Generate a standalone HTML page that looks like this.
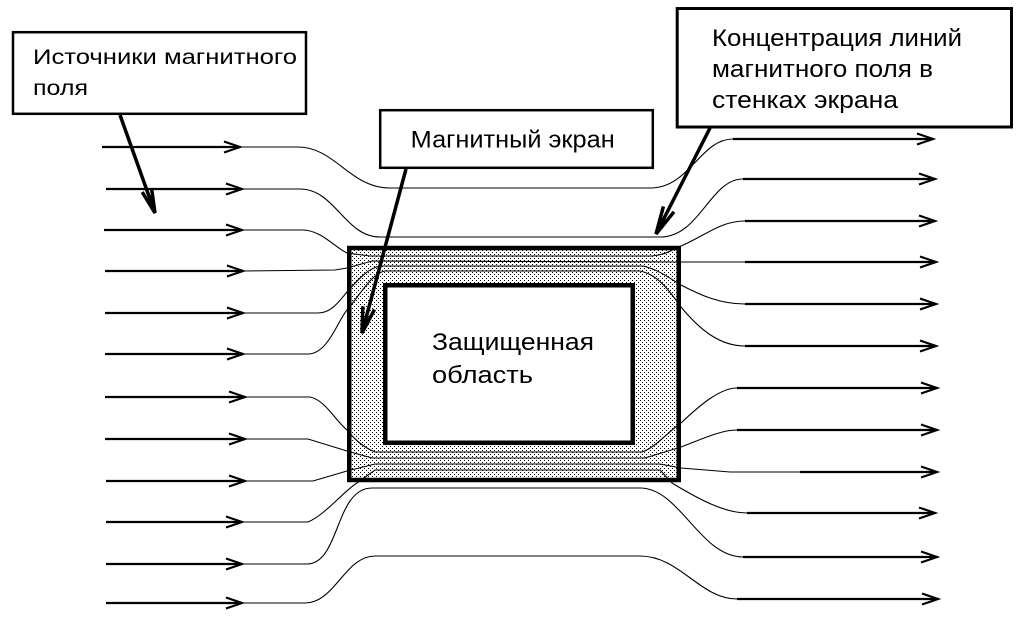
<!DOCTYPE html>
<html>
<head>
<meta charset="utf-8">
<style>
  html, body { margin: 0; padding: 0; background: #fff; }
  svg { display: block; }
  text { font-family: "Liberation Sans", "DejaVu Sans", sans-serif; fill: #000; }
</style>
</head>
<body>
<svg width="1024" height="623" viewBox="0 0 1024 623" xmlns="http://www.w3.org/2000/svg">
  <defs>
    <pattern id="dots" x="0" y="0" width="4" height="4" patternUnits="userSpaceOnUse">
      <rect x="0" y="0" width="4" height="4" fill="#fff"/>
      <rect x="0" y="0" width="1" height="1" fill="#000"/>
      <rect x="2" y="2" width="1" height="1" fill="#000"/>
    </pattern>
  </defs>
  <rect width="1024" height="623" fill="#fff"/>

  <!-- Shield -->
  <rect x="349" y="248" width="330" height="232" fill="url(#dots)"/>
  <rect x="385" y="285" width="248" height="158" fill="#fff"/>

  <!-- thin field lines -->
  <g fill="none" stroke="#000" stroke-width="1.1">
    <path d="M240,147 L298,147 C335,147 350,188 390,188 L650,188 C690,188 700,139 733,139"/>
    <path d="M242,189 L300,189 C335,189 345,237 380,237 L660,237 C700,237 710,179 743,179"/>
    <path d="M242,230 L302,230 C322,230 335,248 347,253 L370,256 L652,256 C665,255 672,250 681,246 C705,236 720,221 745,221"/>
    <path d="M243,271 L335,270 L347,268 L372,261 L681,262 L745,262"/>
    <path d="M243,313 L318,313 C332,313 340,300 347,292 C358,280 368,268 380,266 L643,266 C660,270 672,280 681,285 C700,295 720,304 745,304"/>
    <path d="M243,354 L308,354 C328,354 338,320 347,310 C360,295 372,273 385,271 L640,271 C660,275 672,295 681,307 C700,330 720,346 745,346"/>

    <path d="M245,397 L310,397 C325,400 335,420 347,430 C355,440 365,448 375,452 L642,452 C655,448 670,430 681,423 C700,405 720,388 737,388"/>
    <path d="M245,439 L308,439 L347,451 L372,458 L645,458 L681,447 C700,440 720,430 737,430"/>
    <path d="M245,481 L313,481 L347,471 L375,464 L660,464 L681,468 L730,472 L800,472"/>
    <path d="M242,522 L308,522 C325,515 345,490 357,483 L375,470 L660,470 L672,483 C700,500 725,513 747,513"/>
    <path d="M242,564 L307,564 C340,564 335,488 372,488 L640,488 C680,488 700,557 743,557"/>
    <path d="M242,603 L305,603 C335,603 345,556 375,556 L640,556 C680,556 700,599 737,599"/>
  </g>

  <!-- shield borders -->
  <rect x="349.25" y="248" width="329.5" height="232" fill="none" stroke="#000" stroke-width="4.5"/>
  <rect x="385.25" y="285.25" width="247.5" height="157.5" fill="none" stroke="#000" stroke-width="4.5"/>

  <!-- thick field arrows left -->
  <g fill="none" stroke="#000" stroke-width="2.2" stroke-linejoin="miter">
    <line x1="102" y1="147" x2="240" y2="147"/><polyline points="224,141.5 240,147 224,152.5"/>
    <line x1="106" y1="189" x2="242" y2="189"/><polyline points="226,183.5 242,189 226,194.5"/>
    <line x1="104" y1="230" x2="242" y2="230"/><polyline points="226,224.5 242,230 226,235.5"/>
    <line x1="105" y1="271" x2="243" y2="271"/><polyline points="227,265.5 243,271 227,276.5"/>
    <line x1="105" y1="313" x2="243" y2="313"/><polyline points="227,307.5 243,313 227,318.5"/>
    <line x1="105" y1="354" x2="243" y2="354"/><polyline points="227,348.5 243,354 227,359.5"/>
    <line x1="105" y1="397" x2="245" y2="397"/><polyline points="229,391.5 245,397 229,402.5"/>
    <line x1="105" y1="439" x2="245" y2="439"/><polyline points="229,433.5 245,439 229,444.5"/>
    <line x1="106" y1="481" x2="245" y2="481"/><polyline points="229,475.5 245,481 229,486.5"/>
    <line x1="106" y1="522" x2="242" y2="522"/><polyline points="226,516.5 242,522 226,527.5"/>
    <line x1="106" y1="564" x2="242" y2="564"/><polyline points="226,558.5 242,564 226,569.5"/>
    <line x1="106" y1="603" x2="242" y2="603"/><polyline points="226,597.5 242,603 226,608.5"/>
  </g>

  <!-- thick field arrows right -->
  <g fill="none" stroke="#000" stroke-width="2.2" stroke-linejoin="miter">
    <line x1="733" y1="139" x2="933" y2="139"/><polyline points="917,133.5 933,139 917,144.5"/>
    <line x1="743" y1="179" x2="935" y2="179"/><polyline points="919,173.5 935,179 919,184.5"/>
    <line x1="745" y1="221" x2="935" y2="221"/><polyline points="919,215.5 935,221 919,226.5"/>
    <line x1="745" y1="262" x2="936" y2="262"/><polyline points="920,256.5 936,262 920,267.5"/>
    <line x1="745" y1="304" x2="936" y2="304"/><polyline points="920,298.5 936,304 920,309.5"/>
    <line x1="745" y1="346" x2="936" y2="346"/><polyline points="920,340.5 936,346 920,351.5"/>
    <line x1="737" y1="388" x2="937" y2="388"/><polyline points="921,382.5 937,388 921,393.5"/>
    <line x1="737" y1="430" x2="937" y2="430"/><polyline points="921,424.5 937,430 921,435.5"/>
    <line x1="800" y1="472" x2="937" y2="472"/><polyline points="921,466.5 937,472 921,477.5"/>
    <line x1="747" y1="513" x2="935" y2="513"/><polyline points="919,507.5 935,513 919,518.5"/>
    <line x1="743" y1="557" x2="937" y2="557"/><polyline points="921,551.5 937,557 921,562.5"/>
    <line x1="737" y1="599" x2="938" y2="599"/><polyline points="922,593.5 938,599 922,604.5"/>
  </g>

  <!-- Callout boxes -->
  <rect x="13" y="32.2" width="293" height="81.6" fill="#fff" stroke="#000" stroke-width="2.5"/>
  <text x="33" y="64" font-size="21.5" textLength="264" lengthAdjust="spacingAndGlyphs">Источники магнитного</text>
  <text x="33" y="95" font-size="21.5" textLength="55" lengthAdjust="spacingAndGlyphs">поля</text>

  <rect x="380.2" y="110.2" width="272.6" height="57.6" fill="#fff" stroke="#000" stroke-width="2.5"/>
  <text x="410.7" y="147.5" font-size="24" textLength="204" lengthAdjust="spacingAndGlyphs">Магнитный экран</text>

  <rect x="677.2" y="8.5" width="334.3" height="118.5" fill="#fff" stroke="#000" stroke-width="3"/>
  <text x="712" y="46" font-size="24" textLength="250" lengthAdjust="spacingAndGlyphs">Концентрация линий</text>
  <text x="712" y="77" font-size="24" textLength="221" lengthAdjust="spacingAndGlyphs">магнитного поля в</text>
  <text x="712" y="108" font-size="24" textLength="186" lengthAdjust="spacingAndGlyphs">стенках экрана</text>

  <!-- Protected area label -->
  <text x="432" y="350" font-size="24" textLength="162" lengthAdjust="spacingAndGlyphs">Защищенная</text>
  <text x="432" y="383" font-size="24" textLength="101" lengthAdjust="spacingAndGlyphs">область</text>

  <!-- callout pointer arrows -->
  <g fill="none" stroke="#000" stroke-width="3.5" stroke-linecap="butt" stroke-linejoin="miter">
    <line x1="120" y1="115" x2="155" y2="213"/>
    <polyline points="142.2,192.1 155,213 151.6,188.7"/>
    <line x1="406" y1="169" x2="362" y2="333"/>
    <polyline points="362.9,306.3 362,333 374.5,309.5"/>
    <line x1="710" y1="128" x2="656" y2="234"/>
    <polyline points="663.4,206.4 656,234 674,211.8"/>
  </g>
</svg>
</body>
</html>
